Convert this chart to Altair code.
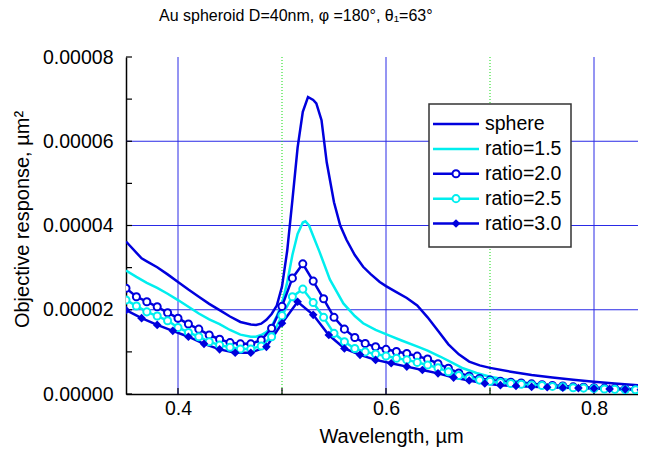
import altair as alt
import pandas as pd

FONT = "Liberation Sans, Arial, Helvetica, sans-serif"

series_names = ["sphere", "ratio=1.5", "ratio=2.0", "ratio=2.5", "ratio=3.0"]
series_colors = ["#0000DD", "#00EEEE", "#0000DD", "#00EEEE", "#0000DD"]

# responses are in units of 1e-5 um^2
wl_sphere = [0.35, 0.365, 0.37, 0.38, 0.39, 0.40, 0.41, 0.42, 0.43, 0.44, 0.45, 0.46, 0.47, 0.475,
             0.48, 0.485, 0.49, 0.495, 0.50, 0.505, 0.51, 0.515, 0.52, 0.525, 0.53, 0.533, 0.538,
             0.543, 0.55, 0.556, 0.562, 0.57, 0.578, 0.585, 0.594, 0.60, 0.61, 0.62, 0.63, 0.64,
             0.65, 0.66, 0.67, 0.68, 0.69, 0.70, 0.72, 0.74, 0.76, 0.78, 0.80, 0.82, 0.85]
resp_sphere = [3.62, 3.22, 3.15, 3.01, 2.84, 2.66, 2.48, 2.31, 2.14, 1.99, 1.84, 1.71, 1.65, 1.64,
               1.67, 1.76, 1.90, 2.10, 2.55, 3.40, 4.60, 5.85, 6.70, 7.05, 6.98, 6.90, 6.50,
               5.50, 4.55, 4.00, 3.66, 3.30, 3.02, 2.85, 2.66, 2.56, 2.42, 2.28, 2.10, 1.82,
               1.50, 1.18, 0.94, 0.77, 0.68, 0.62, 0.53, 0.45, 0.39, 0.34, 0.29, 0.25, 0.19]

wl_r15 = [0.35, 0.36, 0.37, 0.38, 0.39, 0.40, 0.41, 0.42, 0.43, 0.44, 0.45, 0.46, 0.47, 0.475,
          0.48, 0.485, 0.49, 0.495, 0.50, 0.505, 0.51, 0.515, 0.52, 0.5225, 0.526, 0.53, 0.536,
          0.546, 0.559, 0.57, 0.578, 0.59, 0.604, 0.615, 0.631, 0.64, 0.652, 0.664, 0.674, 0.687,
          0.70, 0.72, 0.74, 0.76, 0.79, 0.82, 0.85]
resp_r15 = [2.93, 2.78, 2.64, 2.52, 2.38, 2.23, 2.07, 1.91, 1.77, 1.66, 1.52, 1.41, 1.36, 1.36,
            1.40, 1.47, 1.60, 1.85, 2.15, 2.65, 3.30, 3.80, 4.07, 4.10, 4.00, 3.75, 3.38,
            2.72, 2.15, 1.85, 1.68, 1.52, 1.38, 1.27, 1.12, 1.03, 0.89, 0.74, 0.61, 0.50,
            0.41, 0.32, 0.25, 0.20, 0.16, 0.13, 0.11]

wl_r20 = [0.35, 0.36, 0.37, 0.38, 0.39, 0.40, 0.41, 0.42, 0.43, 0.44, 0.45, 0.46, 0.47, 0.48,
          0.49, 0.50, 0.51, 0.52, 0.53, 0.54, 0.55, 0.56, 0.57, 0.58, 0.59, 0.60, 0.61, 0.62,
          0.63, 0.64, 0.65, 0.66, 0.67, 0.68, 0.69, 0.70, 0.71, 0.72, 0.73, 0.74, 0.75, 0.76,
          0.77, 0.78, 0.79, 0.80, 0.81, 0.82, 0.83, 0.84, 0.85]
resp_r20 = [2.51, 2.31, 2.19, 2.07, 1.93, 1.80, 1.66, 1.54, 1.40, 1.30, 1.22, 1.19, 1.19, 1.28,
            1.56, 2.08, 2.75, 3.09, 2.68, 2.26, 1.82, 1.54, 1.34, 1.20, 1.12, 1.06, 1.01, 0.96,
            0.90, 0.83, 0.72, 0.61, 0.50, 0.42, 0.37, 0.33, 0.30, 0.28, 0.26, 0.24, 0.22, 0.20,
            0.19, 0.17, 0.16, 0.15, 0.14, 0.13, 0.12, 0.11, 0.10]

wl_r25 = wl_r20
resp_r25 = [2.23, 2.09, 1.95, 1.85, 1.74, 1.58, 1.46, 1.36, 1.24, 1.16, 1.11, 1.07, 1.07, 1.14,
            1.36, 1.86, 2.31, 2.49, 2.17, 1.82, 1.44, 1.24, 1.08, 1.00, 0.95, 0.90, 0.85, 0.81,
            0.75, 0.69, 0.62, 0.53, 0.44, 0.38, 0.33, 0.30, 0.27, 0.25, 0.23, 0.21, 0.20, 0.18,
            0.17, 0.15, 0.14, 0.13, 0.12, 0.11, 0.10, 0.10, 0.09]

wl_r30 = [0.35, 0.365, 0.38, 0.395, 0.41, 0.425, 0.44, 0.455, 0.47, 0.485, 0.50, 0.515, 0.53,
          0.545, 0.56, 0.575, 0.59, 0.605, 0.62, 0.635, 0.65, 0.665, 0.68, 0.695, 0.71, 0.725,
          0.74, 0.755, 0.77, 0.785, 0.80, 0.815, 0.83, 0.845]
resp_r30 = [1.99, 1.80, 1.64, 1.50, 1.36, 1.19, 1.06, 0.98, 0.98, 1.12, 1.68, 2.19, 1.88,
            1.40, 1.08, 0.93, 0.81, 0.73, 0.65, 0.57, 0.49, 0.39, 0.32, 0.25, 0.21, 0.19,
            0.17, 0.16, 0.15, 0.14, 0.13, 0.12, 0.11, 0.10]

x_blue_grid = [0.4, 0.6, 0.8]
x_green_grid = [0.5, 0.7]
y_grid = [0.00002, 0.00004, 0.00006]
x_tick_vals = [0.4, 0.5, 0.6, 0.7, 0.8]
y_tick_vals = [0.0, 0.00001, 0.00002, 0.00003, 0.00004, 0.00005, 0.00006, 0.00007, 0.00008]
y_label_vals = [0.0, 0.00002, 0.00004, 0.00006, 0.00008]
x_label_vals = [0.4, 0.6, 0.8]

# plot area: 104 px per 0.1 um; the page is only wide enough for 512 px of it
W, H = 512, 337
X_MIN = 0.35
X_MAX = X_MIN + W / 1040.0

rows = []
for name, wls, vals in [
    (series_names[0], wl_sphere, resp_sphere),
    (series_names[1], wl_r15, resp_r15),
    (series_names[2], wl_r20, resp_r20),
    (series_names[3], wl_r25, resp_r25),
    (series_names[4], wl_r30, resp_r30),
]:
    for w, v in zip(wls, vals):
        rows.append({"series": name, "wl": w, "resp": v * 1e-5})
df = pd.DataFrame(rows)

color_scale = alt.Scale(domain=series_names, range=series_colors)

x_axis = alt.Axis(values=x_label_vals, format=".1f", ticks=False, tickSize=0, grid=False,
                  domainColor="black", domainWidth=1.5, labelFontSize=19.5, labelFont=FONT,
                  labelColor="black", labelPadding=5, labelFlush=False,
                  titleFontSize=20, titleFont=FONT, titleFontWeight="normal", titleColor="black",
                  titleX=265, titleY=42, titleBaseline="middle", titleAlign="center")
y_axis = alt.Axis(values=y_label_vals, format=".5f", ticks=False, tickSize=0, grid=False,
                  domainColor="black", domainWidth=1.5, labelFontSize=19.5, labelFont=FONT,
                  labelColor="black", labelPadding=13, labelFlush=False,
                  titleFontSize=20, titleFont=FONT, titleFontWeight="normal", titleColor="black",
                  titleX=-104, titleY=162, titleAngle=270, titleBaseline="middle", titleAlign="center")

x_scale = alt.Scale(domain=[X_MIN, X_MAX], nice=False, zero=False)
y_scale = alt.Scale(domain=[0, 0.00008], nice=False, zero=False)


def xe(field):
    return alt.X(field, scale=x_scale, axis=x_axis, title="Wavelength, µm")


def ye(field):
    return alt.Y(field, scale=y_scale, axis=y_axis, title="Objective response, µm²")


grid_v_blue = alt.Chart(pd.DataFrame({"gx": x_blue_grid})).mark_rule(
    color="#2A2AE6", strokeWidth=1).encode(x=xe("gx:Q"))
grid_v_green = alt.Chart(pd.DataFrame({"gx": x_green_grid})).mark_rule(
    color="#11DD11", strokeWidth=1, strokeDash=[1, 2]).encode(x=xe("gx:Q"))
grid_h = alt.Chart(pd.DataFrame({"gy": y_grid})).mark_rule(
    color="#2A2AE6", strokeWidth=1).encode(y=ye("gy:Q"))

y_ticks = alt.Chart(pd.DataFrame({"yt": y_tick_vals})).mark_rule(
    color="black", strokeWidth=1.2).encode(y=ye("yt:Q"), x=alt.value(0), x2=alt.value(6))
x_ticks = alt.Chart(pd.DataFrame({"xt": x_tick_vals})).mark_rule(
    color="black", strokeWidth=1.2).encode(x=xe("xt:Q"), y=alt.value(H), y2=alt.value(H - 6))

lines = alt.Chart(df).mark_line(strokeWidth=2.5, clip=True).encode(
    x=xe("wl:Q"), y=ye("resp:Q"),
    color=alt.Color("series:N", scale=color_scale, legend=None),
    order="wl:Q")

circles = alt.Chart(df).transform_filter(
    alt.FieldOneOfPredicate(field="series", oneOf=["ratio=2.0", "ratio=2.5"])
).mark_point(shape="circle", filled=True, fill="white", size=50, strokeWidth=2, opacity=1,
             clip=True).encode(
    x=xe("wl:Q"), y=ye("resp:Q"),
    stroke=alt.Stroke("series:N", scale=color_scale, legend=None))

diamonds = alt.Chart(df).transform_filter(
    alt.FieldEqualPredicate(field="series", equal="ratio=3.0")
).mark_point(shape="diamond", filled=True, size=75, strokeWidth=1, opacity=1, clip=True).encode(
    x=xe("wl:Q"), y=ye("resp:Q"),
    color=alt.Color("series:N", scale=color_scale, legend=None))

main = alt.layer(grid_h, grid_v_blue, grid_v_green, y_ticks, x_ticks,
                 lines, circles, diamonds).properties(width=W, height=H)

# legend box
leg_df = pd.DataFrame({"series": series_names, "row": list(range(len(series_names)))})
leg_y = alt.Y("row:Q", scale=alt.Scale(domain=[0, 4], range=[67, 166.5]), axis=None)

box = alt.Chart(pd.DataFrame({"b": [0]})).mark_rect(
    fill="white", stroke="#333333", strokeWidth=1.5).encode(
    x=alt.value(303), x2=alt.value(445), y=alt.value(47), y2=alt.value(190))
leg_lines = alt.Chart(leg_df).mark_rule(strokeWidth=2.5).encode(
    x=alt.value(307), x2=alt.value(353), y=leg_y,
    color=alt.Color("series:N", scale=color_scale, legend=None))
leg_circles = alt.Chart(leg_df).transform_filter("datum.row == 2 || datum.row == 3").mark_point(
    shape="circle", filled=True, fill="white", size=50, strokeWidth=2, opacity=1).encode(
    x=alt.value(330), y=leg_y,
    stroke=alt.Stroke("series:N", scale=color_scale, legend=None))
leg_diamond = alt.Chart(leg_df).transform_filter("datum.row == 4").mark_point(
    shape="diamond", filled=True, size=75, strokeWidth=1, opacity=1).encode(
    x=alt.value(330), y=leg_y,
    color=alt.Color("series:N", scale=color_scale, legend=None))
leg_text = alt.Chart(leg_df).mark_text(
    align="left", baseline="middle", fontSize=19.5, font=FONT, color="black").encode(
    x=alt.value(359), y=leg_y, text="series:N")

legend = alt.layer(box, leg_lines, leg_circles, leg_diamond, leg_text).properties(width=W, height=H)

chart = alt.layer(main, legend).resolve_scale(y="independent").properties(
    width=W, height=H,
    title=alt.TitleParams("Au spheroid D=40nm, φ =180°, θ₁=63°", anchor="start", dx=33,
                          fontSize=16, fontWeight="normal", font=FONT, color="black",
                          offset=23, frame="group"),
    autosize=alt.AutoSizeParams(type="none"),
    padding={"left": 118, "top": 49, "right": 0, "bottom": 53},
).configure_view(stroke=None)

chart.save("out.html", embed_options={"renderer": "svg", "actions": False})
